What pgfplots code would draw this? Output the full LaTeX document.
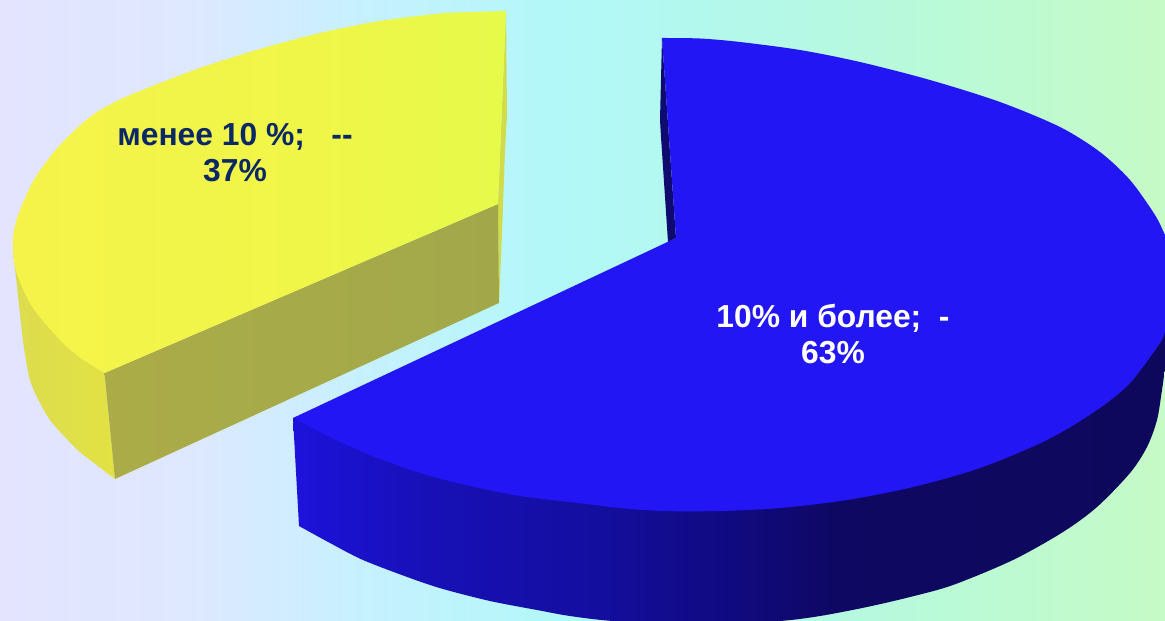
\documentclass[border=0pt]{standalone}
\usepackage{fontspec}
\setmainfont{Liberation Sans}
\usepackage{pgfplots}
\pgfplotsset{compat=1.18}

\definecolor{bluetop}{HTML}{2217F4}
\definecolor{bluedark}{HTML}{0E0A70}
\definecolor{labelblue}{HTML}{0A2766}
\definecolor{sliver}{HTML}{D2DC48}
\definecolor{yside}{HTML}{DCDC4E}
\definecolor{ysideb}{HTML}{E2E244}
\definecolor{olivea}{HTML}{ABAC48}
\definecolor{oliveb}{HTML}{A2A84A}

% stops run from 25bp to 75bp across the bounding box of the filled path
\pgfdeclarehorizontalshading{pagebg}{100bp}{
  rgb(0bp)=(.894,.894,1);
  rgb(25bp)=(.894,.894,1);
  rgb(33bp)=(.871,.91,1);
  rgb(40bp)=(.784,.941,1);
  rgb(49bp)=(.698,.973,.973);
  rgb(58bp)=(.706,.973,.91);
  rgb(66bp)=(.729,.98,.839);
  rgb(75bp)=(.776,.98,.776);
  rgb(100bp)=(.776,.98,.776)}
\pgfdeclarehorizontalshading{blueside}{100bp}{
  rgb(0bp)=(.11,.07,.863);
  rgb(25bp)=(.11,.07,.863);
  rgb(32bp)=(.094,.063,.722);
  rgb(42bp)=(.078,.055,.627);
  rgb(50bp)=(.063,.039,.502);
  rgb(56bp)=(.055,.031,.384);
  rgb(75bp)=(.055,.031,.361);
  rgb(100bp)=(.055,.031,.361)}
\pgfdeclarehorizontalshading{yellowtop}{100bp}{
  rgb(0bp)=(.961,.953,.29);
  rgb(25bp)=(.961,.953,.29);
  rgb(55bp)=(.941,.965,.282);
  rgb(75bp)=(.902,.98,.29);
  rgb(100bp)=(.902,.98,.29)}

\tikzset{lab/.style={anchor=base, inner sep=0pt,
    font=\fontsize{31.8bp}{38bp}\selectfont\bfseries}}

\begin{document}
\begin{tikzpicture}
\useasboundingbox (0,0) rectangle (1165bp,621bp);
\begin{axis}[
    scale only axis,
    width=1165bp,
    height=621bp,
    xmin=0, xmax=1165,
    ymin=0, ymax=621,
    y dir=reverse,
    hide axis,
    clip=true,
]
% background
\addplot[draw=none, shade, shading=pagebg] coordinates {
    (0,0) (1165,0) (1165,621) (0,621)
} --cycle;

% yellow slice: outer side, right sliver, cut wall, top
% only the arcs are smooth, the straight edges are added after them
\addplot[draw=none, smooth, left color=yside, right color=ysideb] coordinates {
    (115,479) (98,466) (80,452) (64,436) (50,420) (39,401) (30,380) (24,348) (21,323) (13,250)
} -- (axis cs:104.5,373) --cycle;
\addplot[draw=none, fill=sliver] coordinates {
    (506,11) (507,115) (505,150) (502,233) (499,303) (498,204)
} --cycle;
\addplot[draw=none, left color=olivea, right color=oliveb] coordinates {
    (104.5,373) (498,204) (499,303) (115,479)
} --cycle;
\addplot[draw=none, smooth, shade, shading=yellowtop] coordinates {
    (506,11) (470,12) (440,13.5) (380,21) (320,33) (260,49) (200,68) (150,87)
    (117,101) (90,117) (60,145) (35,178) (20,210) (14,230) (13,247) (15,267)
    (22,287) (33,308) (50,329) (67,347) (85,361) (104.5,373)
} -- (axis cs:498,204) --cycle;

% blue slice: outer side, inner sliver, top
\addplot[draw=none, smooth, shade, shading=blueside] coordinates {
    (299,526) (330,543) (363,560) (410,578) (443,589) (490,601) (537,610) (570,616)
    (613,621) (700,626) (780,621) (820,616) (867,607) (910,597) (953,585) (1013,560)
    (1063,532) (1097,507) (1130,473) (1147,447) (1157,420) (1162,390) (1165,370)
    (1172,340) (1175,310)
} -- (axis cs:700,300) -- (axis cs:293,418) --cycle;
\addplot[draw=none, fill=bluedark] coordinates {
    (662,38) (660,120) (661,137) (668,242) (676,238)
} --cycle;
\addplot[draw=none, smooth, fill=bluetop] coordinates {
    (662,38) (700,38.5) (740,42) (800,50) (860,62)
    (930,80) (1000,102) (1060,127) (1100,152) (1130,180) (1155,215) (1165,235)
    (1178,262) (1180,285) (1175,310) (1165,332) (1160,343) (1130,383) (1097,410)
    (1047,440) (980,468) (913,487) (847,500) (780,508) (720,511) (663,511) (620,508)
    (570,502) (520,496) (470,486) (420,473) (370,455) (330,437) (293,418)
} -- (axis cs:676,238) --cycle;

\node[lab, text=labelblue] at (axis cs:235,145) {менее 10 \%;\ \ \ -{}-};
\node[lab, text=labelblue] at (axis cs:235,181) {37\%};
\node[lab, text=white] at (axis cs:833,327) {10\% и более;\ \ -};
\node[lab, text=white] at (axis cs:833,363) {63\%};
\end{axis}
\end{tikzpicture}
\end{document}
